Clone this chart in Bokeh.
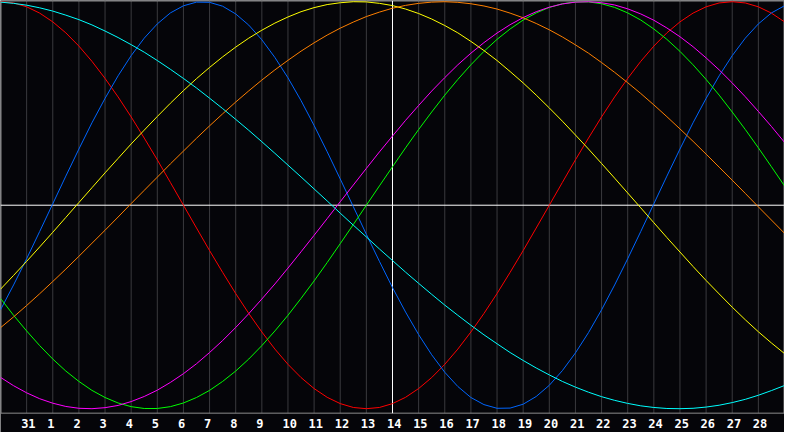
from bokeh.plotting import figure
from bokeh.models import Range1d
from bokeh.core.properties import value
from bokeh.embed import file_html
from bokeh.resources import INLINE

# ---- data -----------------------------------------------------------------
day_labels = ["31"] + [str(d) for d in range(1, 29)]
today_label = "14"

# sample positions: every half day column, 0 .. 30
steps = [i / 2 for i in range(61)]

red = [1.00, 0.994, 0.975, 0.944, 0.901, 0.847, 0.782, 0.707, 0.623, 0.532,
       0.434, 0.330, 0.223, 0.112, 0.0, -0.112, -0.223, -0.330, -0.434, -0.532,
       -0.623, -0.707, -0.782, -0.847, -0.901, -0.944, -0.975, -0.994, -1.00, -0.994,
       -0.975, -0.944, -0.901, -0.847, -0.782, -0.707, -0.623, -0.532, -0.434, -0.330,
       -0.223, -0.112, 0.0, 0.112, 0.223, 0.330, 0.434, 0.532, 0.623, 0.707,
       0.782, 0.847, 0.901, 0.944, 0.975, 0.994, 1.00, 0.994, 0.975, 0.944, 0.901]
blue = [-0.514, -0.392, -0.263, -0.129, 0.007, 0.143, 0.276, 0.405, 0.525, 0.636,
        0.735, 0.821, 0.891, 0.945, 0.980, 0.998, 0.997, 0.978, 0.940, 0.885,
        0.813, 0.726, 0.626, 0.514, 0.392, 0.263, 0.129, -0.007, -0.143, -0.276,
        -0.405, -0.525, -0.636, -0.735, -0.821, -0.891, -0.945, -0.980, -0.998, -0.997,
        -0.978, -0.940, -0.885, -0.813, -0.726, -0.626, -0.514, -0.392, -0.263, -0.129,
        0.007, 0.143, 0.276, 0.405, 0.525, 0.636, 0.735, 0.821, 0.891, 0.945, 0.980]
cyan = [0.998, 0.992, 0.983, 0.970, 0.954, 0.934, 0.912, 0.886, 0.856, 0.824,
        0.789, 0.752, 0.711, 0.668, 0.623, 0.576, 0.526, 0.475, 0.422, 0.368,
        0.312, 0.255, 0.197, 0.139, 0.080, 0.021, -0.039, -0.098, -0.156, -0.215,
        -0.272, -0.329, -0.384, -0.438, -0.491, -0.541, -0.590, -0.637, -0.681, -0.724,
        -0.763, -0.800, -0.834, -0.866, -0.894, -0.919, -0.941, -0.959, -0.974, -0.986,
        -0.994, -0.999, -1.000, -0.998, -0.992, -0.983, -0.970, -0.954, -0.934, -0.911, -0.886]
yellow = [-0.413, -0.345, -0.276, -0.205, -0.133, -0.060, 0.013, 0.086, 0.159, 0.230,
          0.301, 0.369, 0.436, 0.501, 0.563, 0.622, 0.677, 0.729, 0.777, 0.821,
          0.860, 0.895, 0.925, 0.951, 0.971, 0.986, 0.995, 1.000, 0.999, 0.992,
          0.981, 0.964, 0.942, 0.915, 0.883, 0.847, 0.805, 0.760, 0.711, 0.657,
          0.601, 0.541, 0.478, 0.413, 0.345, 0.276, 0.205, 0.133, 0.060, -0.013,
          -0.086, -0.159, -0.230, -0.301, -0.370, -0.436, -0.501, -0.563, -0.622, -0.677, -0.729]
orange = [-0.602, -0.549, -0.493, -0.435, -0.375, -0.314, -0.251, -0.187, -0.123, -0.058,
          0.008, 0.073, 0.138, 0.203, 0.266, 0.329, 0.390, 0.449, 0.507, 0.562,
          0.615, 0.665, 0.712, 0.757, 0.798, 0.836, 0.870, 0.900, 0.927, 0.949,
          0.968, 0.982, 0.992, 0.998, 1.000, 0.997, 0.990, 0.979, 0.964, 0.944,
          0.921, 0.893, 0.862, 0.827, 0.788, 0.747, 0.701, 0.653, 0.602, 0.549,
          0.493, 0.435, 0.375, 0.314, 0.251, 0.187, 0.123, 0.058, -0.008, -0.073, -0.138]
green = [-0.458, -0.541, -0.618, -0.690, -0.756, -0.815, -0.866, -0.910, -0.945, -0.972,
         -0.990, -0.999, -0.999, -0.990, -0.972, -0.945, -0.910, -0.866, -0.815, -0.756,
         -0.690, -0.618, -0.541, -0.458, -0.372, -0.282, -0.189, -0.095, 0.000, 0.095,
         0.189, 0.282, 0.372, 0.458, 0.541, 0.618, 0.690, 0.756, 0.815, 0.866,
         0.910, 0.945, 0.972, 0.990, 0.999, 0.999, 0.990, 0.972, 0.945, 0.910,
         0.866, 0.815, 0.756, 0.690, 0.618, 0.541, 0.458, 0.372, 0.282, 0.189, 0.095]
magenta = [-0.846, -0.887, -0.922, -0.951, -0.973, -0.989, -0.998, -1.000, -0.995, -0.984,
           -0.965, -0.940, -0.909, -0.871, -0.828, -0.779, -0.724, -0.665, -0.601, -0.533,
           -0.461, -0.387, -0.309, -0.229, -0.148, -0.066, 0.017, 0.099, 0.181, 0.262,
           0.340, 0.417, 0.490, 0.561, 0.627, 0.690, 0.747, 0.799, 0.846, 0.887,
           0.922, 0.951, 0.973, 0.989, 0.998, 1.000, 0.995, 0.984, 0.965, 0.940,
           0.909, 0.871, 0.828, 0.779, 0.724, 0.665, 0.601, 0.533, 0.461, 0.387, 0.309]

series = [
    (red, "#ff0000"),
    (blue, "#0066ff"),
    (green, "#00ff00"),
    (magenta, "#ff00ff"),
    (yellow, "#ffff00"),
    (orange, "#ff8000"),
    (cyan, "#00ffff"),
]

# ---- figure ---------------------------------------------------------------
W, H = 784, 432
X0, X1 = 0.0, 30.0
Y_TOP, Y_BOT = 1.006, -1.117
FRAME_BOT = -1.022
LABEL_Y = -1.075

p = figure(width=W, height=H, output_backend="svg", toolbar_location=None,
           x_range=Range1d(X0, X1), y_range=Range1d(Y_BOT, Y_TOP),
           min_border=0, min_border_left=0, min_border_right=0,
           min_border_top=0, min_border_bottom=0)
p.xaxis.visible = False
p.yaxis.visible = False
p.grid.visible = False
p.outline_line_color = None
p.background_fill_color = "#050509"
p.border_fill_color = "#050509"

positions = [i + 1 for i in range(len(day_labels))]
px_x = (X1 - X0) / W
px_y = (Y_TOP - Y_BOT) / H

# day grid lines
p.segment(x0=positions, y0=[FRAME_BOT] * len(positions),
          x1=positions, y1=[Y_TOP] * len(positions),
          line_color="#3a3a3e", line_width=1)

# frame border
p.segment(x0=[X0 + 0.5 * px_x, X1 - 0.5 * px_x, X0, X0],
          y0=[FRAME_BOT, FRAME_BOT, Y_TOP - 0.5 * px_y, FRAME_BOT],
          x1=[X0 + 0.5 * px_x, X1 - 0.5 * px_x, X1, X1],
          y1=[Y_TOP, Y_TOP, Y_TOP - 0.5 * px_y, FRAME_BOT],
          line_color="#8c8c8c", line_width=1)

# center (zero) line and today line
today_x = positions[day_labels.index(today_label)]
p.segment(x0=[X0, today_x], y0=[0, FRAME_BOT], x1=[X1, today_x], y1=[0, Y_TOP],
          line_color="#ffffff", line_width=1)

# curves
for vals, col in series:
    p.line(steps, vals, line_color=col, line_width=1)

# day labels
p.text(x=positions, y=[LABEL_Y] * len(positions), text=day_labels,
       text_font=value("DejaVu Sans Mono"), text_font_style="bold",
       text_font_size="12px", text_color="#ffffff",
       text_align="left", text_baseline="middle", x_offset=-5.5)

open("out.html", "w").write(file_html(p, INLINE))
